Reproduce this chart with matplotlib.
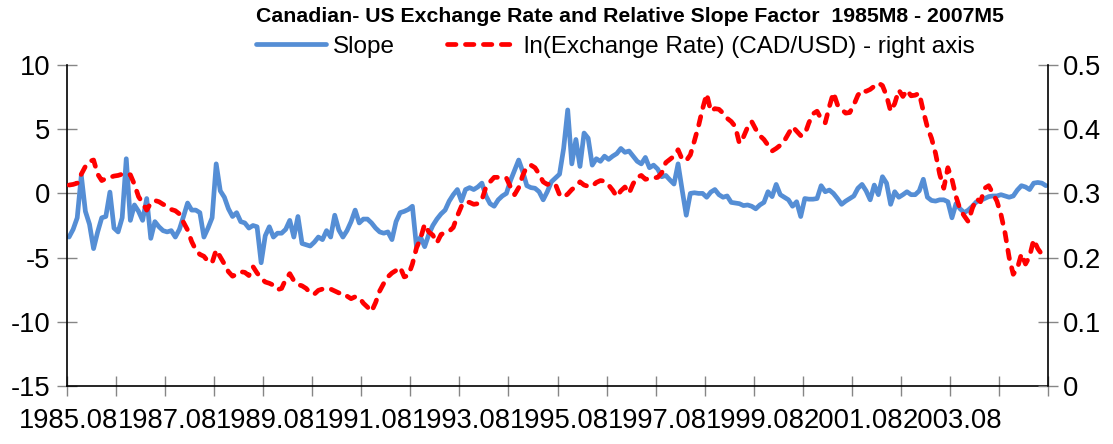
import numpy as np
import matplotlib
matplotlib.use("Agg")
import matplotlib.pyplot as plt

plt.rcParams['font.family'] = ['Liberation Sans', 'DejaVu Sans']
plt.rcParams['axes.unicode_minus'] = False

# Monthly categories 1985.08 ... 2005.07 (240 months)
months = [f"{1985 + (7 + k) // 12}.{(7 + k) % 12 + 1:02d}" for k in range(240)]

title = "Canadian- US Exchange Rate and Relative Slope Factor  1985M8 - 2007M5"
series_names = ["Slope", "ln(Exchange Rate) (CAD/USD) - right axis"]

# Relative slope factor (left axis)
slope = [
    -3.4, -2.8, -1.9, 1.4, -1.4, -2.4, -4.3, -3.0, -1.9, -1.8,
    0.1, -2.7, -3.0, -1.9, 2.7, -2.1, -0.9, -1.4, -2.1, -0.4,
    -3.5, -2.2, -2.6, -2.9, -3.0, -2.9, -3.4, -2.8, -1.8, -0.75,
    -1.3, -1.3, -1.5, -3.4, -2.7, -1.9, 2.3, 0.2, -0.3, -1.2,
    -1.8, -1.5, -2.2, -2.3, -2.7, -2.5, -2.6, -5.4, -3.3, -2.6,
    -3.4, -3.1, -3.1, -2.8, -2.1, -3.4, -1.8, -3.9, -4.0, -4.1,
    -3.8, -3.4, -3.6, -2.9, -3.4, -1.7, -2.85, -3.4, -2.9, -2.2,
    -1.3, -2.3, -2.0, -2.0, -2.3, -2.7, -3.0, -3.1, -3.0, -3.6,
    -2.2, -1.5, -1.4, -1.25, -1.0, -4.15, -3.4, -4.15, -3.2, -2.5,
    -2.0, -1.6, -1.3, -0.6, -0.1, 0.3, -0.6, 0.3, 0.45, 0.3,
    0.5, 0.8, -0.2, -0.8, -1.0, -0.5, -0.2, 0.0, 1.0, 1.8,
    2.6, 1.7, 0.6, 0.45, 0.4, 0.13, -0.5, 0.13, 0.9, 1.2,
    1.5, 3.5, 6.5, 2.3, 4.2, 2.1, 4.7, 4.3, 2.2, 2.7,
    2.5, 2.9, 2.65, 2.9, 3.1, 3.5, 3.2, 3.3, 2.9, 2.5,
    2.3, 2.8, 2.0, 2.2, 1.9, 1.3, 1.4, 1.05, 0.73, 2.3,
    0.26, -1.7, 0.0, 0.05, 0.0, 0.0, -0.3, 0.1, 0.3, -0.1,
    -0.3, -0.2, -0.7, -0.75, -0.8, -0.95, -0.9, -1.0, -1.2, -0.9,
    -0.7, 0.13, -0.25, 0.7, -0.1, -0.3, -0.5, -1.0, -0.65, -1.8,
    -0.4, -0.45, -0.45, -0.4, 0.6, 0.13, 0.26, 0.0, -0.4, -0.85,
    -0.6, -0.4, -0.2, 0.4, 0.7, 0.2, -0.5, 0.65, -0.1, 1.3,
    0.8, -0.85, 0.13, -0.3, -0.1, 0.13, -0.1, -0.1, 0.2, 1.1,
    -0.3, -0.55, -0.6, -0.5, -0.5, -0.65, -1.9, -0.8, -1.2, -1.5,
    -1.3, -1.0, -0.65, -0.55, -0.4, -0.25, -0.2, -0.2, -0.1, -0.2,
    -0.3, -0.2, 0.26, 0.6, 0.5, 0.3, 0.8, 0.85, 0.8, 0.6,
]

# ln(CAD/USD) (right axis)
ln_fx = [
    0.313, 0.314, 0.316, 0.330, 0.342, 0.350, 0.352, 0.330, 0.320, 0.323,
    0.325, 0.327, 0.328, 0.330, 0.331, 0.329, 0.314, 0.295, 0.285, 0.274,
    0.285, 0.289, 0.287, 0.283, 0.280, 0.275, 0.273, 0.268, 0.255, 0.243,
    0.225, 0.212, 0.205, 0.202, 0.194, 0.192, 0.212, 0.201, 0.190, 0.178,
    0.171, 0.174, 0.178, 0.177, 0.172, 0.186, 0.176, 0.168, 0.162, 0.160,
    0.157, 0.150, 0.152, 0.166, 0.175, 0.164, 0.158, 0.156, 0.152, 0.145,
    0.143, 0.149, 0.151, 0.150, 0.151, 0.148, 0.145, 0.145, 0.140, 0.136,
    0.139, 0.138, 0.129, 0.123, 0.116, 0.130, 0.148, 0.160, 0.170, 0.176,
    0.180, 0.185, 0.170, 0.172, 0.190, 0.215, 0.230, 0.252, 0.240, 0.235,
    0.223, 0.236, 0.239, 0.241, 0.247, 0.265, 0.280, 0.287, 0.286, 0.283,
    0.284, 0.290, 0.310, 0.318, 0.325, 0.325, 0.325, 0.324, 0.310, 0.298,
    0.309, 0.328, 0.342, 0.344, 0.340, 0.330, 0.318, 0.314, 0.316, 0.314,
    0.298, 0.294, 0.299, 0.306, 0.311, 0.318, 0.313, 0.311, 0.311, 0.317,
    0.320, 0.319, 0.313, 0.305, 0.295, 0.304, 0.310, 0.300, 0.315, 0.325,
    0.328, 0.322, 0.323, 0.324, 0.325, 0.332, 0.348, 0.353, 0.358, 0.368,
    0.353, 0.351, 0.360, 0.382, 0.405, 0.432, 0.455, 0.428, 0.432, 0.431,
    0.425, 0.417, 0.412, 0.404, 0.378, 0.388, 0.403, 0.412, 0.400, 0.390,
    0.384, 0.375, 0.366, 0.370, 0.375, 0.382, 0.393, 0.404, 0.397, 0.390,
    0.392, 0.410, 0.424, 0.428, 0.416, 0.410, 0.435, 0.457, 0.438, 0.431,
    0.425, 0.426, 0.438, 0.453, 0.461, 0.459, 0.462, 0.467, 0.472, 0.468,
    0.452, 0.428, 0.440, 0.461, 0.451, 0.461, 0.452, 0.453, 0.456, 0.428,
    0.403, 0.386, 0.362, 0.330, 0.308, 0.340, 0.322, 0.295, 0.275, 0.265,
    0.256, 0.277, 0.292, 0.287, 0.308, 0.312, 0.300, 0.288, 0.267, 0.238,
    0.200, 0.174, 0.183, 0.206, 0.190, 0.202, 0.228, 0.214, 0.205, 0.201,
]

left_ticks = [-15, -10, -5, 0, 5, 10]
right_ticks = [0, 0.1, 0.2, 0.3, 0.4, 0.5]
right_tick_labels = ["0", "0.1", "0.2", "0.3", "0.4", "0.5"]
label_every = 24
tick_every = 12

W, H = 1113, 444
fig = plt.figure(figsize=(W / 100, H / 100), dpi=100)
L, R, T, B = 67, 1048, 65, 386
ax = fig.add_axes([L / W, 1 - B / H, (R - L) / W, (B - T) / H])
ax2 = ax.twinx()

x = np.arange(len(slope))
blue = '#558ED5'
red = '#FF0000'
l1, = ax.plot(x, slope, color=blue, lw=3.4, solid_joinstyle='round',
              solid_capstyle='round', label=series_names[0])
l2, = ax2.plot(x, ln_fx, color=red, lw=3.4, linestyle=(0, (1.8, 2.0)),
               dash_capstyle='round', dash_joinstyle='round', label=series_names[1])

n = len(slope)
ax.set_xlim(-0.5, n - 0.5)
ax.set_ylim(-15, 10)
ax2.set_ylim(0, 0.5)

fs = 19.7
tick_col = '#868686'
ax.set_yticks(left_ticks)
ax.set_yticklabels([str(t) for t in left_ticks])
ax2.set_yticks(right_ticks)
ax2.set_yticklabels(right_tick_labels)

ax.set_xticks(np.arange(-0.5, n, tick_every))
ax.set_xticklabels([])
lab_pos = list(range(0, n - tick_every, label_every))
ax.set_xticks(lab_pos, minor=True)
ax.set_xticklabels([months[p] for p in lab_pos], minor=True)

ax.tick_params(axis='y', direction='inout', length=14, width=1, color=tick_col,
               labelsize=fs, pad=5)
ax.tick_params(axis='x', which='major', direction='inout', length=14, width=1,
               color=tick_col)
ax.tick_params(axis='x', which='minor', length=0, labelsize=fs, pad=16)
ax2.tick_params(axis='y', direction='inout', length=14, width=1, color=tick_col,
                labelsize=fs, pad=4)

for a in (ax, ax2):
    a.spines['top'].set_visible(False)
ax.spines['right'].set_visible(False)
ax2.spines['left'].set_visible(False)
ax2.spines['bottom'].set_visible(False)
for s in ('left', 'bottom'):
    ax.spines[s].set_color('black')
    ax.spines[s].set_linewidth(1.2)
ax2.spines['right'].set_color('black')
ax2.spines['right'].set_linewidth(1.2)
ax.patch.set_visible(False)

fig.text(630 / W, 1 - 17 / H, title, ha='center', va='center',
         fontsize=15.3, fontweight='bold')

ax2.legend(handles=[l1, l2], loc='center',
           bbox_to_anchor=(615.5 / W, 1 - 47 / H), bbox_transform=fig.transFigure,
           ncol=2, frameon=False, fontsize=17.5, handlelength=2.88,
           handletextpad=0.29, columnspacing=2.14, borderpad=0, borderaxespad=0)

fig.savefig('out.png', dpi=100)
